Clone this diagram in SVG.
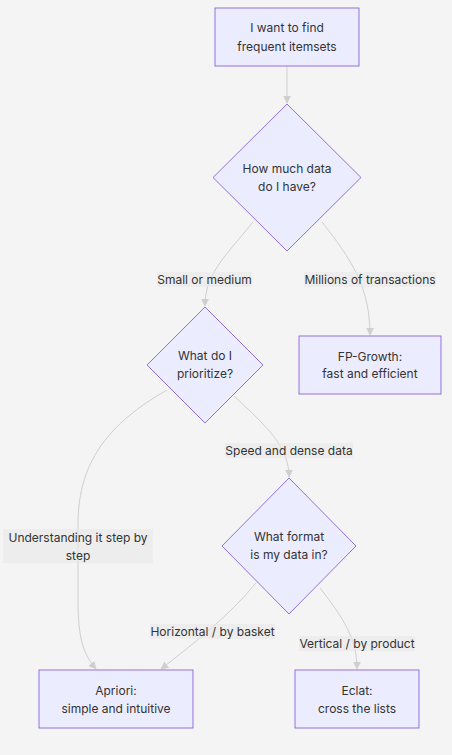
<svg xmlns="http://www.w3.org/2000/svg" width="452" height="755" viewBox="0 0 452 755">
<defs>
<style>
.bg{fill:#f4f4f4}
.node rect,.node polygon{fill:#ececff;stroke:#9370db;stroke-width:1}
.t{font-family:Inter,"Noto Sans",sans-serif;font-size:12px;fill:#333;text-anchor:middle}
.edge{fill:none;stroke:#cfcfcf;stroke-width:1;marker-end:url(#arr)}
.lbl{fill:#e8e8e8;opacity:0.6}
</style>
<marker id="arr" viewBox="0 0 10 10" refX="9" refY="5" markerWidth="8" markerHeight="8" markerUnits="userSpaceOnUse" orient="auto">
<path d="M0,0 L10,5 L0,10 z" fill="#cfcfcf"/>
</marker>
</defs>
<rect class="bg" x="0" y="0" width="452" height="755"/>
<g id="connectors">
<path class="edge" d="M287,66 L287,103"/>
<path class="edge" d="M253,222 C222,260 205,275 205,306"/>
<path class="edge" d="M322,222 C352,260 370,288 370,335"/>
<path class="edge" d="M167,390 C100,428 78,470 78,525 L78,600 C78,640 84,655 96,669"/>
<path class="edge" d="M234,396 C266,426 289,446 289,477"/>
<path class="edge" d="M256,583 C230,615 192,645 161,669"/>
<path class="edge" d="M320,588 C345,620 357,640 357,669"/>
</g>
<g id="edge-labels">
<g id="lbl-small"><rect class="lbl" x="157" y="272" width="95" height="15"/><text class="t" x="204.5" y="284">Small or medium</text></g>
<g id="lbl-millions"><rect class="lbl" x="304" y="272" width="132" height="15"/><text class="t" x="370" y="284">Millions of transactions</text></g>
<g id="lbl-speed"><rect class="lbl" x="225" y="443" width="128" height="15"/><text class="t" x="289" y="455">Speed and dense data</text></g>
<g id="lbl-understand"><rect class="lbl" x="3" y="529" width="150" height="34"/><text class="t" x="78" y="542">Understanding it step by</text><text class="t" x="78" y="560">step</text></g>
<g id="lbl-horizontal"><rect class="lbl" x="150" y="624" width="125" height="15"/><text class="t" x="212.5" y="636">Horizontal / by basket</text></g>
<g id="lbl-vertical"><rect class="lbl" x="299" y="636" width="116" height="15"/><text class="t" x="357" y="648">Vertical / by product</text></g>
</g>
<g id="start" class="node"><rect x="215" y="8" width="144" height="58"/><text class="t" x="287" y="32">I want to find</text><text class="t" x="287" y="51">frequent itemsets</text></g>
<g id="q-data" class="node"><polygon points="287,104 361,177.5 287,251 213,177.5"/><text class="t" x="287" y="173">How much data</text><text class="t" x="287" y="191">do I have?</text></g>
<g id="q-prio" class="node"><polygon points="205,307 263,365 205,423 147,365"/><text class="t" x="205" y="360">What do I</text><text class="t" x="205" y="378">prioritize?</text></g>
<g id="fp" class="node"><rect x="299" y="336" width="142" height="58"/><text class="t" x="370" y="361">FP-Growth:</text><text class="t" x="370" y="378">fast and efficient</text></g>
<g id="q-format" class="node"><polygon points="289,478 356,546 289,614 222,546"/><text class="t" x="289" y="541">What format</text><text class="t" x="289" y="559">is my data in?</text></g>
<g id="apriori" class="node"><rect x="39" y="670" width="154" height="58"/><text class="t" x="116" y="695">Apriori:</text><text class="t" x="116" y="713">simple and intuitive</text></g>
<g id="eclat" class="node"><rect x="295" y="670" width="124" height="58"/><text class="t" x="357" y="695">Eclat:</text><text class="t" x="357" y="713">cross the lists</text></g>
</svg>
